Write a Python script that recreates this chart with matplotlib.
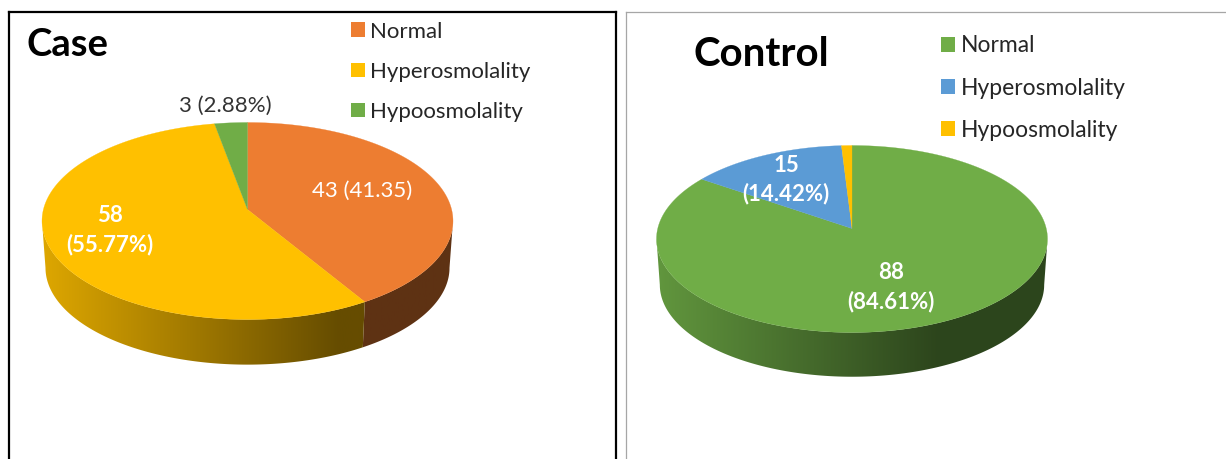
import numpy as np
import matplotlib
matplotlib.use("Agg")
import matplotlib.pyplot as plt
from matplotlib.colors import to_rgb
from matplotlib.patches import Patch, Polygon

plt.rcParams['font.family'] = ['Lato', 'DejaVu Sans']

W, H = 1226, 459

categories = ['Normal', 'Hyperosmolality', 'Hypoosmolality']

case_values = [43, 58, 3]
case_colors = ['#ED7D31', '#FFC000', '#70AD47']
case_labels = ['43 (41.35)', '58\n(55.77%)', '3 (2.88%)']

control_values = [88, 15, 1]
control_colors = ['#70AD47', '#5B9BD5', '#FFC000']
control_labels = ['88\n(84.61%)', '15\n(14.42%)', None]


def project(theta, cx, cy, a, b, k, scale=1.0, drop=0.0):
    # theta clockwise from the back of the pie, with a bit of perspective
    u = np.sin(theta)
    v = np.cos(theta)
    w = 1 + k * v
    return cx + scale * a * u / w, cy - scale * b * v / w + drop


def draw_pie(ax, values, colors, cx, cy, rx, back, front, depth):
    b = 2 / (1 / back + 1 / front)
    k = b / back - 1
    a = rx * np.sqrt(1 - k ** 2)
    angles = np.cumsum([0] + list(values)) / sum(values) * 2 * np.pi
    # side wall gets darker left to right, then stays flat
    shade = 0.87 + (0.40 - 0.87) * np.clip(np.linspace(0, 1, 512) / 0.72, 0, 1)
    # the wall is seen between the widest points of the rim
    rim_start = np.arccos(-k)
    rim_stop = 2 * np.pi - rim_start

    for i, c in enumerate(colors):
        start = max(angles[i], rim_start)
        stop = min(angles[i + 1], rim_stop)
        if start >= stop:
            continue
        th = np.linspace(start, stop, 200)
        x1, y1 = project(th, cx, cy, a, b, k)
        x2, y2 = project(th, cx, cy, a, b, k, 0.983, depth + 2)

        side = Polygon(np.c_[np.r_[x1, x2[::-1]], np.r_[y1, y2[::-1]]],
                       closed=True, transform=ax.transData, facecolor='none', edgecolor='none')
        ax.add_patch(side)
        grad = shade[None, :, None] * np.array(to_rgb(c))[None, None, :]
        im = ax.imshow(grad, extent=(cx - rx, cx + rx, H, 0), aspect='auto', zorder=1)
        im.set_clip_path(side)

    for i, c in enumerate(colors):
        th = np.linspace(angles[i], angles[i + 1], 200)
        x, y = project(th, cx, cy, a, b, k)
        ax.fill(np.r_[cx, x], np.r_[cy, y], facecolor=c, edgecolor=c, lw=0.2, zorder=2)


def add_legend(ax, colors, x, y, size, spacing):
    handles = [Patch(facecolor=c, edgecolor='none') for c in colors]
    ax.legend(handles, categories, loc='upper left', bbox_to_anchor=(x, y),
              bbox_transform=ax.transData, frameon=False, fontsize=size,
              handlelength=0.62, handleheight=0.62, handletextpad=0.25,
              labelspacing=spacing, borderpad=0, borderaxespad=0,
              labelcolor='#262626')


def make_panel(fig, left, top, right, edge, lw):
    ax = fig.add_axes([left / W, 0, (right - left) / W, (H - top) / H])
    ax.set_xlim(left, right)
    ax.set_ylim(H, top)
    ax.autoscale(False)
    ax.set_xticks([])
    ax.set_yticks([])
    ax.spines['bottom'].set_visible(False)
    for s in ['left', 'right', 'top']:
        ax.spines[s].set_color(edge)
        ax.spines[s].set_linewidth(lw)
    return ax


fig = plt.figure(figsize=(W / 100, H / 100), dpi=100)

# left panel
ax1 = make_panel(fig, 9, 12, 616, 'black', 1.6)
draw_pie(ax1, case_values, case_colors, 247.5, 209.5, 205.5, 87, 110, 45)
add_legend(ax1, case_colors, 351, 21.5, 16, 0.91)
ax1.text(27, 45, 'Case', fontsize=27.5, fontweight='bold', va='center', ha='left', color='black')
ax1.text(362, 191, case_labels[0], fontsize=16, color='white', ha='center', va='center')
ax1.text(110, 230, case_labels[1], fontsize=16, color='white', ha='center', va='center',
         fontweight='bold', linespacing=1.45)
ax1.text(225, 106, case_labels[2], fontsize=16, color='#333333', ha='center', va='center')

# right panel
ax2 = make_panel(fig, 626, 12, W + 2, '#A6A6A6', 0.9)
draw_pie(ax2, control_values, control_colors, 852, 228.5, 195.5, 83, 104, 44)
add_legend(ax2, control_colors, 941, 35.5, 16.5, 0.92)
ax2.text(694, 55, 'Control', fontsize=29, fontweight='bold', va='center', ha='left', color='black')
ax2.text(891, 287, control_labels[0], fontsize=16, color='white', ha='center', va='center',
         fontweight='bold', linespacing=1.45)
ax2.text(786, 179.5, control_labels[1], fontsize=16, color='white', ha='center', va='center',
         fontweight='bold', linespacing=1.4)

fig.savefig('out.png', dpi=100)
